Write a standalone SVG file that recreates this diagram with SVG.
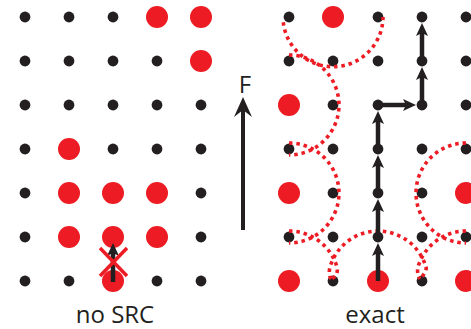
<svg xmlns="http://www.w3.org/2000/svg" width="471" height="329" viewBox="0 0 471 329">
  <style>
    .b { fill: #231F20; }
    .r { fill: #ED1C24; }
    .path { stroke: #231F20; stroke-width: 4.5; fill: none; }
    .ring { stroke: #ED1C24; stroke-width: 3.6; fill: none; stroke-dasharray: 3.5 3.9; }
    .lbl { font-family: "Open Sans", "Liberation Sans", sans-serif; font-size: 24px; fill: #231F20; }
  </style>
  <defs>
    <marker id="head" viewBox="-14 -7 15 14" refX="-9" refY="0" markerWidth="15" markerHeight="14" markerUnits="userSpaceOnUse" orient="auto">
      <path d="M0,0 L-13,-6 L-10,0 L-13,6 Z" fill="#231F20"/>
    </marker>
  </defs>
  <rect width="471" height="329" fill="#ffffff"/>

  <!-- left lattice: no SRC -->
  <g id="left-lattice">
    <g id="L00"><circle class="b" cx="25" cy="17" r="5.4"/></g>
    <g id="L10"><circle class="b" cx="69" cy="17" r="5.4"/></g>
    <g id="L20"><circle class="b" cx="113" cy="17" r="5.4"/></g>
    <g id="L30"><circle class="r" cx="157" cy="17" r="11"/></g>
    <g id="L40"><circle class="r" cx="201" cy="17" r="11"/></g>

    <g id="L01"><circle class="b" cx="25" cy="61" r="5.4"/></g>
    <g id="L11"><circle class="b" cx="69" cy="61" r="5.4"/></g>
    <g id="L21"><circle class="b" cx="113" cy="61" r="5.4"/></g>
    <g id="L31"><circle class="b" cx="157" cy="61" r="5.4"/></g>
    <g id="L41"><circle class="r" cx="201" cy="61" r="11"/></g>

    <g id="L02"><circle class="b" cx="25" cy="105" r="5.4"/></g>
    <g id="L12"><circle class="b" cx="69" cy="105" r="5.4"/></g>
    <g id="L22"><circle class="b" cx="113" cy="105" r="5.4"/></g>
    <g id="L32"><circle class="b" cx="157" cy="105" r="5.4"/></g>
    <g id="L42"><circle class="b" cx="201" cy="105" r="5.4"/></g>

    <g id="L03"><circle class="b" cx="25" cy="149" r="5.4"/></g>
    <g id="L13"><circle class="r" cx="69" cy="149" r="11"/></g>
    <g id="L23"><circle class="b" cx="113" cy="149" r="5.4"/></g>
    <g id="L33"><circle class="b" cx="157" cy="149" r="5.4"/></g>
    <g id="L43"><circle class="b" cx="201" cy="149" r="5.4"/></g>

    <g id="L04"><circle class="b" cx="25" cy="193" r="5.4"/></g>
    <g id="L14"><circle class="r" cx="69" cy="193" r="11"/></g>
    <g id="L24"><circle class="r" cx="113" cy="193" r="11"/></g>
    <g id="L34"><circle class="r" cx="157" cy="193" r="11"/></g>
    <g id="L44"><circle class="b" cx="201" cy="193" r="5.4"/></g>

    <g id="L05"><circle class="b" cx="25" cy="237" r="5.4"/></g>
    <g id="L15"><circle class="r" cx="69" cy="237" r="11"/></g>
    <g id="L25"><circle class="r" cx="113" cy="237" r="11"/></g>
    <g id="L35"><circle class="r" cx="157" cy="237" r="11"/></g>
    <g id="L45"><circle class="b" cx="201" cy="237" r="5.4"/></g>

    <g id="L06"><circle class="b" cx="25" cy="281" r="5.4"/></g>
    <g id="L16"><circle class="b" cx="69" cy="281" r="5.4"/></g>
    <g id="L26"><circle class="r" cx="113" cy="281" r="11"/></g>
    <g id="L36"><circle class="b" cx="157" cy="281" r="5.4"/></g>
    <g id="L46"><circle class="b" cx="201" cy="281" r="5.4"/></g>
  </g>

  <!-- right lattice: exact -->
  <g id="right-lattice">
    <g id="R00"><circle class="b" cx="289" cy="17" r="5.4"/></g>
    <g id="R10"><circle class="r" cx="333" cy="17" r="11"/></g>
    <g id="R20"><circle class="b" cx="378" cy="17" r="5.4"/></g>
    <g id="R30"><circle class="b" cx="422" cy="17" r="5.4"/></g>
    <g id="R40"><circle class="b" cx="466" cy="17" r="5.4"/></g>

    <g id="R01"><circle class="b" cx="289" cy="61" r="5.4"/></g>
    <g id="R11"><circle class="b" cx="333" cy="61" r="5.4"/></g>
    <g id="R21"><circle class="b" cx="378" cy="61" r="5.4"/></g>
    <g id="R31"><circle class="b" cx="422" cy="61" r="5.4"/></g>
    <g id="R41"><circle class="b" cx="466" cy="61" r="5.4"/></g>

    <g id="R02"><circle class="r" cx="289" cy="105" r="11"/></g>
    <g id="R12"><circle class="b" cx="333" cy="105" r="5.4"/></g>
    <g id="R22"><circle class="b" cx="378" cy="105" r="5.4"/></g>
    <g id="R32"><circle class="b" cx="422" cy="105" r="5.4"/></g>
    <g id="R42"><circle class="b" cx="466" cy="105" r="5.4"/></g>

    <g id="R03"><circle class="b" cx="289" cy="149" r="5.4"/></g>
    <g id="R13"><circle class="b" cx="333" cy="149" r="5.4"/></g>
    <g id="R23"><circle class="b" cx="378" cy="149" r="5.4"/></g>
    <g id="R33"><circle class="b" cx="422" cy="149" r="5.4"/></g>
    <g id="R43"><circle class="b" cx="466" cy="149" r="5.4"/></g>

    <g id="R04"><circle class="r" cx="289" cy="193" r="11"/></g>
    <g id="R14"><circle class="b" cx="333" cy="193" r="5.4"/></g>
    <g id="R24"><circle class="b" cx="378" cy="193" r="5.4"/></g>
    <g id="R34"><circle class="b" cx="422" cy="193" r="5.4"/></g>
    <g id="R44"><circle class="r" cx="466" cy="193" r="11"/></g>

    <g id="R05"><circle class="b" cx="289" cy="237" r="5.4"/></g>
    <g id="R15"><circle class="b" cx="333" cy="237" r="5.4"/></g>
    <g id="R25"><circle class="b" cx="378" cy="237" r="5.4"/></g>
    <g id="R35"><circle class="b" cx="422" cy="237" r="5.4"/></g>
    <g id="R45"><circle class="b" cx="466" cy="237" r="5.4"/></g>

    <g id="R06"><circle class="r" cx="289" cy="281" r="11"/></g>
    <g id="R16"><circle class="b" cx="333" cy="281" r="5.4"/></g>
    <g id="R26"><circle class="r" cx="378" cy="281" r="11"/></g>
    <g id="R36"><circle class="b" cx="422" cy="281" r="5.4"/></g>
    <g id="R46"><circle class="r" cx="466" cy="281" r="11"/></g>
  </g>

  <!-- dotted boundaries around the red sites -->
  <g id="rings">
    <path class="ring" d="M283.3,22.2 A50,50 0 0 0 383,17"/>
    <path class="ring" d="M289,55 A50,50 0 0 1 289,155"/>
    <path class="ring" d="M289,143 A50,50 0 0 1 289,243"/>
    <path class="ring" d="M289,231 A50,50 0 0 1 337.3,268.1 Q338,276 331,279"/>
    <path class="ring" d="M331,279 Q328.5,275 329.7,268.1 A50,50 0 0 1 426.3,268.1 Q425,275 419,279"/>
    <path class="ring" d="M466,143 A50,50 0 0 0 466,243"/>
    <path class="ring" d="M466,231 A50,50 0 0 0 417.7,268.1 Q417,275 420,279"/>
  </g>

  <!-- connectors -->
  <g id="connectors">
    <line class="path" x1="378" y1="281" x2="378" y2="252" marker-end="url(#head)"/>
    <line class="path" x1="378" y1="237" x2="378" y2="208" marker-end="url(#head)"/>
    <line class="path" x1="378" y1="193" x2="378" y2="164" marker-end="url(#head)"/>
    <line class="path" x1="378" y1="149" x2="378" y2="120" marker-end="url(#head)"/>
    <line class="path" x1="378" y1="105" x2="407" y2="105" marker-end="url(#head)"/>
    <line class="path" x1="422" y1="105" x2="422" y2="76" marker-end="url(#head)"/>
    <line class="path" x1="422" y1="61" x2="422" y2="32" marker-end="url(#head)"/>
    <line class="path" x1="113" y1="282" x2="113" y2="252" marker-end="url(#head)"/>
  </g>

  <!-- blocked move -->
  <g id="blocked" stroke="#ED1C24" stroke-width="3.5">
    <line x1="100" y1="248" x2="127" y2="276"/>
    <line x1="127" y1="248" x2="100" y2="276"/>
  </g>

  <!-- force direction -->
  <g id="force">
    <line x1="243" y1="230" x2="243" y2="106" stroke="#231F20" stroke-width="4"/>
    <path d="M243,97 L252,117 L243,110 L234,117 Z" fill="#231F20"/>
    <text class="lbl" x="245" y="93" text-anchor="middle">F</text>
  </g>

  <text class="lbl" x="115" y="323" text-anchor="middle">no SRC</text>
  <text class="lbl" x="375" y="323" text-anchor="middle">exact</text>
</svg>
